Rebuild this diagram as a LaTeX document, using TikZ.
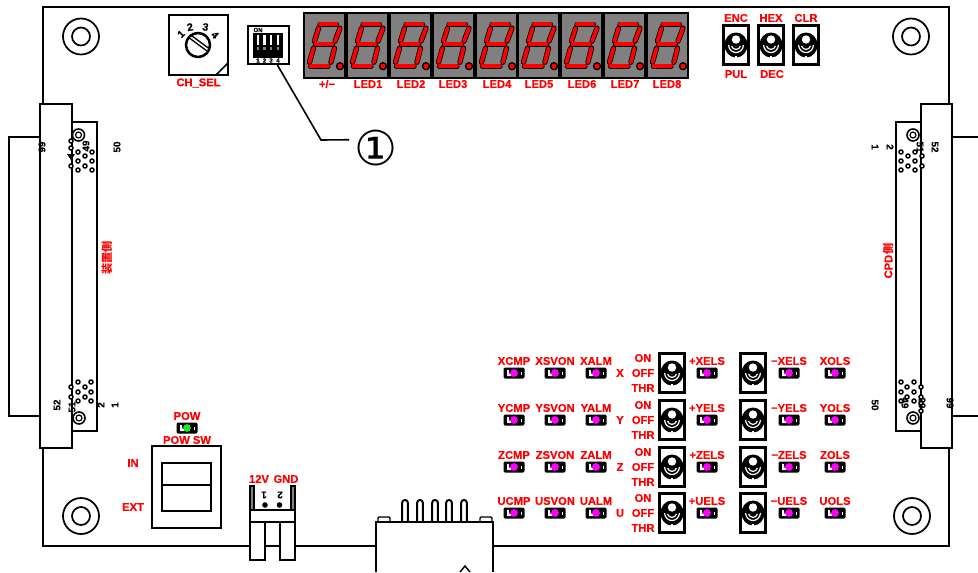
\documentclass[tikz,border=0pt]{standalone}
\usepackage{fontspec}
\setmainfont{Liberation Sans}[BoldFeatures={FakeBold=0.5}]
\newfontfamily\cjkfont{Noto Sans CJK JP}
\newfontfamily\symfont{DejaVu Sans}
\usetikzlibrary{positioning}
\definecolor{ledgray}{RGB}{128,128,128}
\definecolor{lampmagenta}{RGB}{255,0,255}
\definecolor{lampgreen}{RGB}{30,230,30}
\definecolor{pure red}{RGB}{255,0,0}
\tikzset{
    outline/.style={draw=black,line width=1.5pt},
    redlbl/.style={text=pure red,font=\bfseries\fontsize{8.4}{9}\selectfont,inner sep=0pt},
    pinlbl/.style={text=black,font=\bfseries\fontsize{7.4}{8}\selectfont,inner sep=0pt},
    padpin/.style={draw=black,line width=1.1pt,fill=white},
    segline/.style={draw=black,line width=.6pt,double=pure red,double distance=2.8pt,line cap=round},
    sevenseg/.pic={
        \draw[outline,line width=1.3pt,fill=ledgray] (0,0) rectangle (41,65.5);
        \draw[segline] (16,11.5) -- (32.5,11.5);
        \draw[segline] (36,15.5) -- (31,28.5);
        \draw[segline] (14.5,15.5) -- (10.5,28.5);
        \draw[segline] (11.5,31.5) -- (28.5,31.5);
        \draw[segline] (9.5,35.5) -- (5.5,49.5);
        \draw[segline] (30.5,35.5) -- (27,49.5);
        \draw[segline] (6.5,53.5) -- (24,53.5);
        \fill[black] (36,53.5) circle[radius=4.2];
        \fill[pure red] (36,53.5) circle[radius=2.6];
    },
    tglsw/.pic={
        \draw[outline,line width=2.4pt,fill=white] (-12.5,-19.5) rectangle (12.5,19.5);
        \fill[black] (0,0) ellipse[x radius=11.5,y radius=12.5];
        \draw[white,line width=.9pt] (-7.5,0) .. controls (-6.5,10) and (6.5,10) .. (7.5,0);
        \draw[white,line width=.9pt] (-4.5,1) .. controls (-3,5.5) and (3,5.5) .. (4.5,1);
        \fill[white] (0,-5.5) circle[radius=4.2];
        \draw[white,line width=.8pt] (-1,12) -- (1,12);
    },
    ledlamp/.pic={
        \fill[black,rounded corners=1pt] (-10.5,-5.5) rectangle (10.5,5.5);
        \fill[white] (-7,-3.2) -- (-5.4,-3.2) -- (-4.4,1.2) -- (-3,1.2) -- (-3,3.2) -- (-7,3.2) -- cycle;
        \draw[white,line width=.5pt] (7,-1.5) -- (7,1.5);
        \fill[pic actions] (0,0) circle[radius=3.9];
    },
    holemark/.pic={
        \draw[outline,line width=1.3pt] (0,0) circle[radius=18];
        \draw[outline,line width=1.3pt] (0,0) circle[radius=9];
    },
    padring/.pic={
        \draw[outline,line width=1.2pt] (0,0) circle[radius=6];
        \draw[outline,line width=.9pt] (0,0) circle[radius=3];
    }
}

\begin{document}
\begin{tikzpicture}[x=.75pt,y=-.75pt]
    \useasboundingbox (0,0) rectangle (978,572);

    % board edge
    \draw[outline] (43,104) -- (43,6.5) -- (949,6.5) -- (949,104);
    \draw[outline] (43,448) -- (43,546) -- (250,546);
    \draw[outline] (265,546) -- (280,546);
    \draw[outline] (295,546) -- (376,546);
    \draw[outline] (493,546) -- (949,546) -- (949,448);

    % side connectors
    \draw[outline] (40,136.5) -- (9,136.5) -- (9,416) -- (40,416);
    \draw[outline] (952,136.5) -- (978,136.5);
    \draw[outline] (952,416) -- (978,416);
    \draw[outline] (72,122) rectangle (97,431);
    \draw[outline] (40,104) rectangle (72,448);
    \draw[outline] (896,122) rectangle (921,431);
    \draw[outline] (921,104) rectangle (952,448);

    \pic at (78.5,135) {padring};
    \pic at (79,418) {padring};
    \pic at (913,135) {padring};
    \pic at (913,418) {padring};
    \foreach \x/\y in {78/152,92/152,85/156,78/161,92/161,85/166,78/170,92/170,71/141,71/148,71/166,
        78/382,91/382,85/387,78/392,91/392,85/397,78/401,91/401,71/387,71/397,
        901/152,915/152,908/156,901/161,915/161,908/166,901/170,915/170,922/156,922/166,
        901/382,914/382,907/387,901/392,914/392,907/397,901/401,914/401,921/387,921/397,921/403,921/411}
        \draw[padpin] (\x,\y) circle[radius=2];
    \fill[black] (67,154) -- (75,154) -- (71,160) -- cycle;

    \node[pinlbl,rotate=90] (lbl99a) at (42,147) {99};
    \node[pinlbl,rotate=90] (lbl49a) at (86,146) {49};
    \node[pinlbl,rotate=90] (lbl50a) at (117,147) {50};
    \node[pinlbl,rotate=90] (lbl52a) at (57,405) {52};
    \node[pinlbl,rotate=90] (lbl51a) at (72,407) {51};
    \node[pinlbl,rotate=90] (lbl2a) at (101,405) {2};
    \node[pinlbl,rotate=90] (lbl1a) at (115,405) {1};
    \node[pinlbl,rotate=-90] (lbl1b) at (875,147) {1};
    \node[pinlbl,rotate=-90] (lbl2b) at (890,147) {2};
    \node[pinlbl,rotate=-90] (lbl51b) at (920,147) {51};
    \node[pinlbl,rotate=-90] (lbl52b) at (935,147) {52};
    \node[pinlbl,rotate=-90] (lbl50b) at (875,405) {50};
    \node[pinlbl,rotate=-90] (lbl49b) at (905,403) {49};
    \node[pinlbl,rotate=-90] (lbl99b) at (922,403) {99};
    \node[pinlbl,rotate=-90] (lbl99c) at (950,403) {99};
    \node[redlbl,rotate=90] (sidea) at (107,258) {\cjkfont\bfseries 装置側};
    \node[redlbl,rotate=90] (sideb) at (888,261) {CPD{\cjkfont\bfseries 側}};

    % mounting holes
    \pic at (81,36.5) {holemark};
    \pic at (911,36.5) {holemark};
    \pic at (81,516) {holemark};
    \pic at (912,516) {holemark};

    % channel selector
    \draw[outline] (169,15) rectangle (228,75);
    \draw[outline,line width=1.1pt] (216,75) -- (228,63);
    \draw[outline,line width=1.9pt] (198,45) circle[radius=12];
    \draw[outline,line width=1pt] (188,37) -- (207,51);
    \draw[outline,line width=1pt] (190,34.5) -- (209,48.5);
    \node[pinlbl,rotate=45] (sel1) at (181,34) {1};
    \node[pinlbl,rotate=10,font=\bfseries\fontsize{8}{9}\selectfont] (sel2) at (190,27) {2};
    \node[pinlbl,rotate=-10,font=\bfseries\fontsize{8}{9}\selectfont] (sel3) at (205.5,27) {3};
    \node[pinlbl,rotate=-45] (sel4) at (215,35) {4};
    \node[redlbl] (chsel) at (198.5,83) {CH\_SEL};

    % dip switch and callout
    \node[draw=black,line width=1.6pt,inner sep=0pt,minimum width=30.7pt,minimum height=28.5pt] (dipsw) at (268.5,45) {};
    \fill[black] (253,33) rectangle (283,58);
    \foreach \x in {258,264.5,271,278} {
        \fill[white] (\x-1.4,35) rectangle (\x+1.4,45);
        \fill[gray] (\x-1.4,47) rectangle (\x+1.4,50);
    }
    \node[pinlbl,font=\bfseries\fontsize{4.5}{4}\selectfont] (dipon) at (258,30) {ON};
    \foreach \i/\x in {1/258,2/264.5,3/271,4/278}
        \node[pinlbl,font=\bfseries\fontsize{4.5}{4}\selectfont] (dipn\i) at (\x,60.5) {\i};
    \node[circle,inner sep=0pt,minimum size=39pt] (callout) at (376,148) {\symfont\fontsize{36}{36}\selectfont ①};
    \coordinate (elbow) at (321,140);
    \draw[line width=1.2pt] (dipsw.-66) -- (elbow) -- (callout.163);

    % seven segment row
    \foreach \x/\t/\c in {304/{+/−}/327,347/LED1/368,390/LED2/411,433/LED3/453,476/LED4/497,518/LED5/539,561/LED6/582,604/LED7/625,647/LED8/667} {
        \pic at (\x,12.7) {sevenseg};
        \node[redlbl] (seg\x) at (\c,84) {\t};
    }

    % toggles at the top
    \foreach \x/\t/\b/\lx in {736/ENC/PUL/736,771/HEX/DEC/772,806/CLR//806} {
        \pic at (\x,45) {tglsw};
        \node[redlbl] (top\x) at (\x,18) {\t};
        \node[redlbl] (bot\x) at (\lx,74) {\b};
    }

    % axis rows
    \foreach \ax/\y in {X/373,Y/420,Z/467,U/513} {
        \foreach \x/\t in {514/CMP,555/SVON,596/ALM,835/OLS} {
            \pic[fill=lampmagenta] at (\x,\y) {ledlamp};
            \node[redlbl] (\ax\t) at (\x,\y-12) {\ax\t};
        }
        \pic[fill=lampmagenta] at (707,\y) {ledlamp};
        \node[redlbl] (plus\ax) at (707,\y-12) {+\ax ELS};
        \pic[fill=lampmagenta] at (789,\y) {ledlamp};
        \node[redlbl] (minus\ax) at (789,\y-12) {−\ax ELS};
        \node[redlbl] (axis\ax) at (620,\y) {\ax};
        \node[redlbl] (on\ax) at (643,\y-15) {ON};
        \node[redlbl] (off\ax) at (643,\y) {OFF};
        \node[redlbl] (thr\ax) at (643,\y+15) {THR};
        \pic at (672,\y) {tglsw};
        \pic at (753,\y) {tglsw};
    }

    % power switch
    \pic[fill=lampgreen] at (187,428) {ledlamp};
    \node[redlbl] (pow) at (187,416) {POW};
    \node[redlbl] (powsw) at (187,440) {POW SW};
    \draw[outline] (152,446) rectangle (221,528);
    \draw[outline] (162,463) rectangle (211,511);
    \draw[outline] (162,485) -- (211,485);
    \node[redlbl] (swin) at (133,463) {IN};
    \node[redlbl] (swext) at (133,507) {EXT};

    % power terminal
    \draw[outline,fill=ledgray,line width=1.1pt] (250,486) rectangle (254,510);
    \draw[outline,fill=ledgray,line width=1.1pt] (291,486) rectangle (295,510);
    \draw[outline] (250,510) rectangle (295,522);
    \draw[outline,fill=white] (250,522) rectangle (265,560);
    \draw[outline,fill=white] (280,522) rectangle (295,560);
    \node[redlbl] (v12) at (259,479) {12V};
    \node[redlbl] (gnd) at (286,479) {GND};
    \node[pinlbl,rotate=180] (term1) at (264,495) {1};
    \node[pinlbl,rotate=180] (term2) at (280,495) {2};
    \fill[black] (265,505) circle[radius=2.8];
    \fill[black] (279.5,505) circle[radius=2.8];

    % flat cable connector
    \draw[outline] (376,572) -- (376,522) -- (493,522) -- (493,572);
    \foreach \x in {378,480}
        \draw[outline,line width=1.1pt,rounded corners=.8pt] (\x,522) -- (\x,517) -- (\x+12,517) -- (\x+12,522);
    \foreach \x in {405,420,435,449,464}
        \draw[outline,rounded corners=2pt] (\x-2.8,522) -- (\x-2.8,500) -- (\x+2.8,500) -- (\x+2.8,522);
    \draw[outline,line width=1.1pt] (460,572) -- (465,566) -- (470,572);
\end{tikzpicture}
\end{document}
